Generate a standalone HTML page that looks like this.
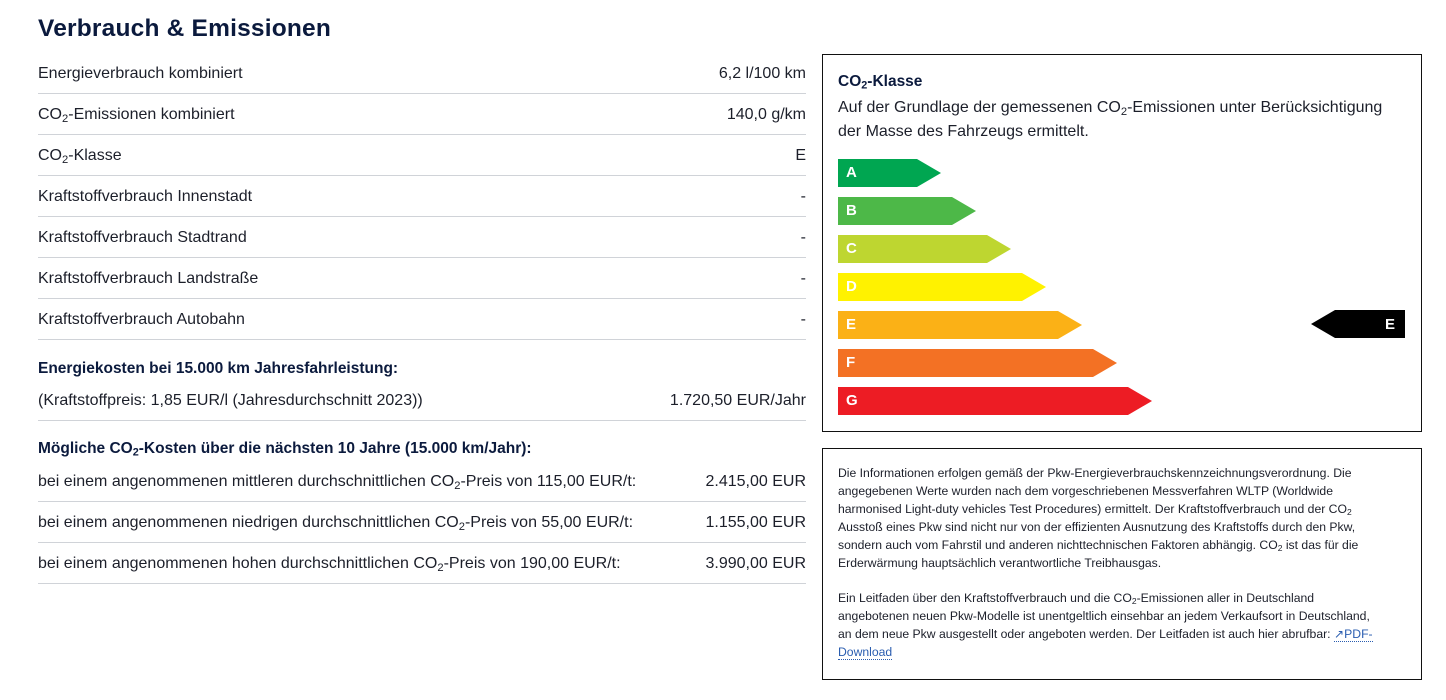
<!DOCTYPE html>
<html><head><meta charset="utf-8"><style>
*{margin:0;padding:0;box-sizing:border-box}
body{width:1446px;height:700px;background:#fff;font-family:"Liberation Sans",sans-serif;color:#1c1f2a;position:relative;overflow:hidden}
.a{position:absolute;white-space:nowrap}
h1{position:absolute;left:38px;top:15px;font-size:24.5px;font-weight:bold;color:#0b1a3d;letter-spacing:0.2px}
.row{position:absolute;left:38px;width:768px;height:41px;font-size:16px;line-height:41px;border-bottom:1px solid #d0d3d8}
.row .r{position:absolute;right:0;top:0}
.hd{position:absolute;left:38px;font-size:15.5px;font-weight:bold;color:#0b1a3d}
sub{font-size:0.7em;vertical-align:-0.25em;line-height:0}
.box{position:absolute;left:822px;width:600px;border:1px solid #111}
.bar{position:absolute;left:838px;height:28px;color:#fff;font-weight:bold;font-size:15px;line-height:28px;padding-left:8px}
.small{font-size:12.2px;line-height:18px;color:#1c1f2a}
a{color:#2a5db0;text-decoration:none;border-bottom:1px dotted #2a5db0}
</style></head><body>
<h1>Verbrauch &amp; Emissionen</h1>
<div class="row" style="top:53px">Energieverbrauch kombiniert<span class="r">6,2 l/100 km</span></div>
<div class="row" style="top:94px">CO<sub>2</sub>-Emissionen kombiniert<span class="r">140,0 g/km</span></div>
<div class="row" style="top:135px">CO<sub>2</sub>-Klasse<span class="r">E</span></div>
<div class="row" style="top:176px">Kraftstoffverbrauch Innenstadt<span class="r">-</span></div>
<div class="row" style="top:217px">Kraftstoffverbrauch Stadtrand<span class="r">-</span></div>
<div class="row" style="top:258px">Kraftstoffverbrauch Landstraße<span class="r">-</span></div>
<div class="row" style="top:299px">Kraftstoffverbrauch Autobahn<span class="r">-</span></div>
<div class="hd" style="top:360px">Energiekosten bei 15.000 km Jahresfahrleistung:</div>
<div class="row" style="top:380px">(Kraftstoffpreis: 1,85 EUR/l (Jahresdurchschnitt 2023))<span class="r">1.720,50 EUR/Jahr</span></div>
<div class="hd" style="top:440px">Mögliche CO<sub>2</sub>-Kosten über die nächsten 10 Jahre (15.000 km/Jahr):</div>
<div class="row" style="top:461px">bei einem angenommenen mittleren durchschnittlichen CO<sub>2</sub>-Preis von 115,00 EUR/t:<span class="r">2.415,00 EUR</span></div>
<div class="row" style="top:502px">bei einem angenommenen niedrigen durchschnittlichen CO<sub>2</sub>-Preis von 55,00 EUR/t:<span class="r">1.155,00 EUR</span></div>
<div class="row" style="top:543px">bei einem angenommenen hohen durchschnittlichen CO<sub>2</sub>-Preis von 190,00 EUR/t:<span class="r">3.990,00 EUR</span></div>

<div class="box" style="top:54px;height:378px"></div>
<div class="a" style="left:838px;top:73px;font-size:15.5px;font-weight:bold;color:#0b1a3d">CO<sub>2</sub>-Klasse</div>
<div class="a" style="left:838px;top:96px;font-size:16px;line-height:24px">Auf der Grundlage der gemessenen CO<sub>2</sub>-Emissionen unter Berücksichtigung<br>der Masse des Fahrzeugs ermittelt.</div>
<svg class="a" style="left:0;top:0" width="1446" height="700">
<polygon points="838,159 917,159 941,173 917,187 838,187" fill="#00a651"/>
<polygon points="838,197 952,197 976,211 952,225 838,225" fill="#4db848"/>
<polygon points="838,235 987,235 1011,249 987,263 838,263" fill="#bed630"/>
<polygon points="838,273 1022,273 1046,287 1022,301 838,301" fill="#fff200"/>
<polygon points="838,311 1058,311 1082,325 1058,339 838,339" fill="#fbb116"/>
<polygon points="838,349 1093,349 1117,363 1093,377 838,377" fill="#f37124"/>
<polygon points="838,387 1128,387 1152,401 1128,415 838,415" fill="#ed1c24"/>
<polygon points="1311,324 1335,310 1405,310 1405,338 1335,338" fill="#000"/>
</svg>
<div class="bar" style="top:159px">A</div>
<div class="bar" style="top:197px">B</div>
<div class="bar" style="top:235px">C</div>
<div class="bar" style="top:273px">D</div>
<div class="bar" style="top:311px">E</div>
<div class="bar" style="top:349px">F</div>
<div class="bar" style="top:387px">G</div>
<div class="a" style="left:1385px;top:311px;color:#fff;font-weight:bold;font-size:15px;line-height:28px">E</div>

<div class="box" style="top:448px;height:232px"></div>
<div class="a small" style="left:838px;top:464px">Die Informationen erfolgen gemäß der Pkw-Energieverbrauchskennzeichnungsverordnung. Die<br>angegebenen Werte wurden nach dem vorgeschriebenen Messverfahren WLTP (Worldwide<br>harmonised Light-duty vehicles Test Procedures) ermittelt. Der Kraftstoffverbrauch und der CO<sub>2</sub><br>Ausstoß eines Pkw sind nicht nur von der effizienten Ausnutzung des Kraftstoffs durch den Pkw,<br>sondern auch vom Fahrstil und anderen nichttechnischen Faktoren abhängig. CO<sub>2</sub> ist das für die<br>Erderwärmung hauptsächlich verantwortliche Treibhausgas.</div>
<div class="a small" style="left:838px;top:589px">Ein Leitfaden über den Kraftstoffverbrauch und die CO<sub>2</sub>-Emissionen aller in Deutschland<br>angebotenen neuen Pkw-Modelle ist unentgeltlich einsehbar an jedem Verkaufsort in Deutschland,<br>an dem neue Pkw ausgestellt oder angeboten werden. Der Leitfaden ist auch hier abrufbar: <a>&#x2197;PDF-</a><br><a>Download</a></div>
</body></html>
